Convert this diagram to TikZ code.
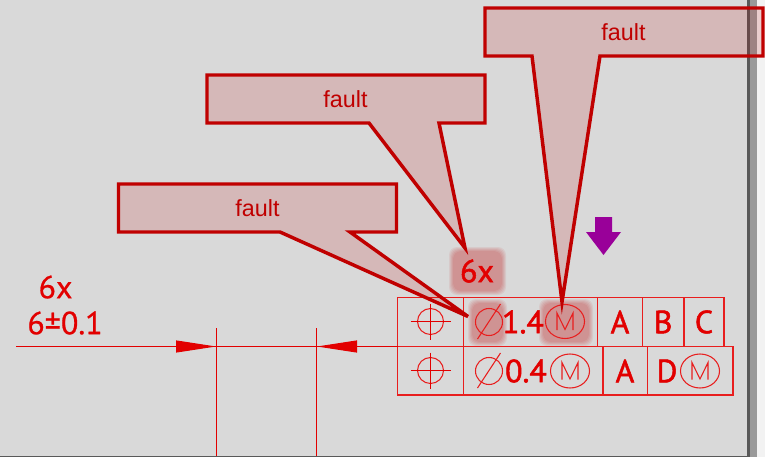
\documentclass[tikz,border=0pt]{standalone}
\usepackage{fontspec}
\setmainfont{Liberation Sans}
\newfontfamily\dinfont[FakeBold=1.6]{PT Sans}
\newfontfamily\dimfont[FakeBold=0.7]{PT Sans}
\usetikzlibrary{arrows.meta}

\definecolor{sheetgray}{RGB}{217,217,217}
\definecolor{dimred}{RGB}{226,0,0}
\definecolor{framered}{RGB}{232,30,30}
\definecolor{faultred}{RGB}{192,0,0}
\definecolor{markpurple}{RGB}{153,0,153}

\tikzset{
  thinline/.style={draw=dimred,line width=0.8pt},
  hairline/.style={draw=framered,line width=0.8pt},
  callout/.style={draw=faultred,line width=2.6pt,fill=faultred,fill opacity=0.15,line join=miter},
  faulttext/.style={text=faultred,font=\fontsize{17.5}{19}\selectfont,inner sep=0pt},
  halo/.style={fill=faultred,fill opacity=0.07,rounded corners=6pt},
  dintext/.style={text=dimred,font=\dinfont\fontsize{24}{26}\selectfont,inner sep=0pt},
  dimtext/.style={text=dimred,font=\dimfont\fontsize{24}{26}\selectfont,inner sep=0pt},
  dimtip/.style={-{Triangle[length=30pt,width=9pt]},draw=dimred,fill=dimred,line width=0.75pt},
}

\newcommand{\halobox}[4]{%
  \foreach \d in {-2,-1,0,1,2}
    \fill [halo] (#1-\d,#2-\d) rectangle (#3+\d,#4+\d);
}
\newcommand{\possymbol}[2]{%
  \draw [hairline] (#1,#2) circle [radius=13];
  \draw [thinline] (#1-20,#2) -- (#1+20,#2);
  \draw [thinline] (#1,#2-18) -- (#1,#2+18);
}
\newcommand{\diasymbol}[2]{%
  \draw [hairline] (#1,#2) circle [radius=13.5];
  \draw [hairline] (#1-11.5,#2+17) -- (#1+11.5,#2-18);
}
\newcommand{\msymbol}[2]{%
  \draw [hairline] (#1,#2) ellipse [x radius=19.5,y radius=17];
  \draw [hairline,line join=miter] (#1-8,#2+8.5) -- (#1-8,#2-8.5) -- (#1,#2+8) -- (#1+8,#2-8.5) -- (#1+8,#2+8.5);
}

\begin{document}
\begin{tikzpicture}[x=0.75pt,y=0.75pt,yscale=-1,xscale=1]
\useasboundingbox (0,0) rectangle (765,457);

%sheet and its edge
\fill [color=white!95!black] (0,0) rectangle (765,457);
\fill [sheetgray] (0,0) rectangle (747,456);
\fill [black!65] (0,456) rectangle (747,457);
\fill [black!65] (747,0) rectangle (750,457);
\fill [black!40] (750,0) rectangle (757,457);

%highlights
\halobox{451}{249}{504}{293}
\halobox{470}{301}{505}{344}
\halobox{541}{301}{591}{344}

%frames, upper row
\foreach \xa/\xb in {397.5/463.5,463.5/597.5,597.5/642.5,642.5/684,684/724}
  \draw [hairline] (\xa,297.5) rectangle (\xb,346.5);
%frames, lower row
\foreach \xa/\xb in {397.5/463.5,463.5/603,603/647.5,647.5/733}
  \draw [hairline] (\xa,346.5) rectangle (\xb,395);

%symbols
\possymbol{430.5}{321.5}
\possymbol{430.5}{370.5}
\diasymbol{489}{322}
\diasymbol{489}{371}
\msymbol{565}{321.5}
\msymbol{570}{371}
\msymbol{700}{371}

% Text Node
\node (six) [dintext] at (477,271) {6x};
\node (tolA) [dintext] at (523,322) {1.4};
\node (tolB) [dintext] at (526,371) {0.4};
\node (datA) [dintext] at (620,322) {A};
\node (datB) [dintext] at (663,322) {B};
\node (datC) [dintext] at (704,322) {C};
\node (datD) [dintext] at (625,371) {A};
\node (datE) [dintext] at (667,371) {D};
\node (count) [dimtext] at (55.5,287) {6x};
\node (size) [dimtext] at (65,323) {6±0.1};

%dimension lines
\coordinate (dimstart) at (16,346.5);
\coordinate (tipL) at (216,346.5);
\coordinate (tipR) at (317,346.5);
\coordinate (dimend) at (397.5,346.5);
\draw [thinline] (dimstart) -- (dimend);
\draw [dimtip] (175,346.5) -- (tipL);
\draw [dimtip] (358,346.5) -- (tipR);
\draw [thinline] (216.5,328) -- (216.5,456);
\draw [thinline] (316.5,328) -- (316.5,456);

%purple arrow
\fill [markpurple] (595,217) -- (612,217) -- (612,232) -- (621,232) -- (603.5,255) -- (586,232) -- (595,232) -- cycle;

%callouts
\draw [callout] (118.5,184) -- (396.5,184) -- (396.5,232) -- (350,232) -- (468,316.5) -- (280,232) -- (118.5,232) -- cycle;
\draw [callout] (207,75) -- (485,75) -- (485,123) -- (439,123) -- (465,248) -- (369,123) -- (207,123) -- cycle;
\draw [callout] (485,8) -- (763,8) -- (763,56) -- (600,56) -- (562,302) -- (532,56) -- (485,56) -- cycle;

% Text Node
\node (faultC) [faulttext] at (257.5,208) {fault};
\node (faultB) [faulttext] at (345.5,99.5) {fault};
\node (faultA) [faulttext] at (623.5,32.5) {fault};

\end{tikzpicture}
\end{document}
